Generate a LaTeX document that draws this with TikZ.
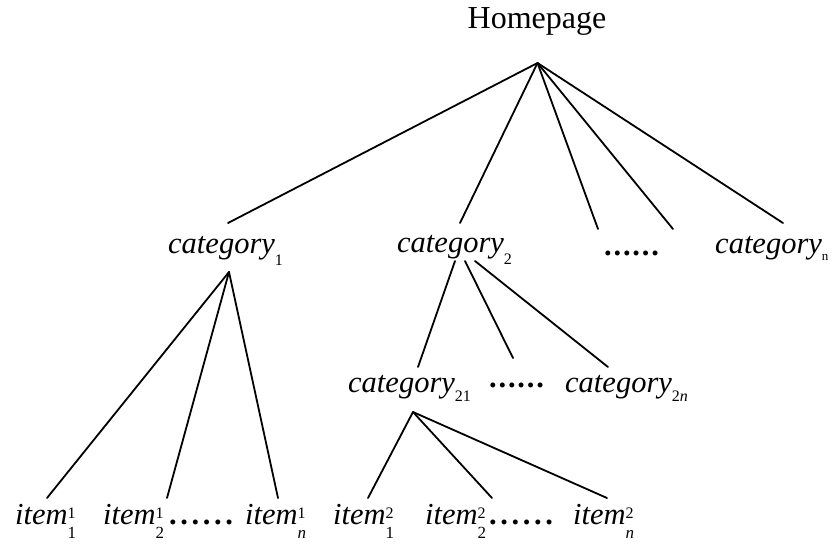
\documentclass[tikz,border=0pt]{standalone}
\usepackage{fontspec}
\setmainfont{Liberation Serif}

% subscript after a category name
\newcommand\catsub[2][12pt]{\raisebox{-#1}{\fontsize{16}{16}\selectfont\upshape #2}}
% stacked superscript / subscript after an item name
\newcommand\itemidx[2]{\rlap{\raisebox{6pt}{\fontsize{16}{16}\selectfont\upshape #1}}\raisebox{-14pt}{\fontsize{17}{17}\selectfont\upshape #2}}
% a row of six spaced dots
\newcommand\dotrun[1]{{\upshape\bfseries .\kern#1.\kern#1.\kern#1.\kern#1.\kern#1.}}

\begin{document}
\begin{tikzpicture}[x=1pt,y=-1pt,
  lbl/.style={anchor=base west, inner sep=0pt, font=\fontsize{30.5}{30.5}\selectfont\itshape},
  link/.style={line width=1.8pt, line cap=round}]
\useasboundingbox (0,0) rectangle (838,547);

% root
\node[anchor=base, inner sep=0pt, font=\fontsize{32}{32}\selectfont] (home) at (537,28) {Homepage};

% first level
\node[lbl] (cat1) at (168,253) {category\catsub{1}};
\node[lbl] (cat2) at (397,252) {category\catsub{2}};
\node[lbl] (catdots) at (604,255) {\dotrun{1.8pt}};
\node[lbl] (catn) at (715,253) {category\catsub[7pt]{\fontsize{13}{13}\selectfont n}};

% second level under category 2
\node[lbl] (cat21) at (348,392) {category\catsub[9pt]{21}};
\node[lbl] (cat2dots) at (489,387) {\dotrun{1.8pt}};
\node[lbl] (cat2n) at (565,392) {category\catsub[9pt]{2\textit{n}}};

% items
\node[lbl] (it11) at (15,524) {item\itemidx{1}{1}};
\node[lbl] (it21) at (103,524) {item\itemidx{1}{2}};
\node[lbl] (itdots1) at (169,524) {\dotrun{3.6pt}};
\node[lbl] (itn1) at (245,524) {item\itemidx{1}{\textit{n}}};
\node[lbl] (it12) at (333,524) {item\itemidx{2}{1}};
\node[lbl] (it22) at (425,524) {item\itemidx{2}{2}};
\node[lbl] (itdots2) at (489,524) {\dotrun{3.6pt}};
\node[lbl] (itn2) at (573,524) {item\itemidx{2}{\textit{n}}};

% branching points and line ends
\coordinate (home-root) at (537.5,63);
\coordinate (cat1-top) at (228,223);
\coordinate (cat2-top) at (460,223);
\coordinate (catdots-topl) at (598,229);
\coordinate (catdots-topr) at (673,229);
\coordinate (catn-top) at (783,223);

\coordinate (cat1-root) at (229,272);
\coordinate (it11-top) at (47,498);
\coordinate (it21-top) at (167,498);
\coordinate (itn1-top) at (278,498);

\coordinate (cat2-rootl) at (455,261);
\coordinate (cat2-rootm) at (465,261);
\coordinate (cat2-rootr) at (475,261);
\coordinate (cat21-top) at (418,367);
\coordinate (cat2dots-top) at (513,358);
\coordinate (cat2n-top) at (608,367);

\coordinate (cat21-root) at (413,412);
\coordinate (it12-top) at (368,498);
\coordinate (it22-top) at (492,498);
\coordinate (itn2-top) at (607,498);

% connectors
\foreach \t in {cat1-top,cat2-top,catdots-topl,catdots-topr,catn-top}
  \draw[link] (home-root) -- (\t);
\foreach \t in {it11-top,it21-top,itn1-top}
  \draw[link] (cat1-root) -- (\t);
\draw[link] (cat2-rootl) -- (cat21-top);
\draw[link] (cat2-rootm) -- (cat2dots-top);
\draw[link] (cat2-rootr) -- (cat2n-top);
\foreach \t in {it12-top,it22-top,itn2-top}
  \draw[link] (cat21-root) -- (\t);
\end{tikzpicture}
\end{document}
